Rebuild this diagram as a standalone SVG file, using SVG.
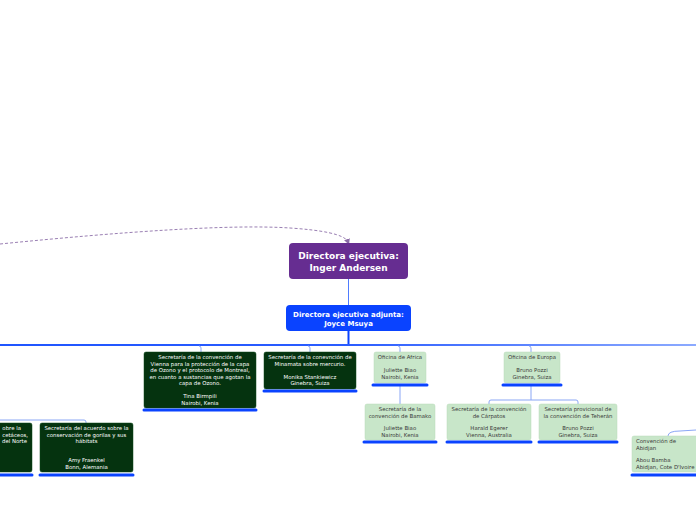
<svg xmlns="http://www.w3.org/2000/svg" width="696" height="520" viewBox="0 0 696 520">
<defs>
<style>
.t{font-family:"DejaVu Sans",Verdana,sans-serif;font-size:5.4px;text-anchor:middle}
.w{fill:#ffffff}
.g{fill:#3a3a3a}
.dk{fill:#05330f;stroke:#0d4a1b;stroke-width:0.5}
.lt{fill:#c8e6c9;stroke:#b8dbb9;stroke-width:0.5}
.bar{stroke:#0a43ff;stroke-width:3;stroke-linecap:round}
.c{fill:none;stroke:#8aa6f5;stroke-width:1}
</style>
<linearGradient id="hg" x1="0" y1="0" x2="696" y2="0" gradientUnits="userSpaceOnUse">
<stop offset="0" stop-color="#1f55ff"/>
<stop offset="0.5" stop-color="#2a5cff"/>
<stop offset="1" stop-color="#8caaff"/>
</linearGradient>
<marker id="ah" markerWidth="6" markerHeight="6" refX="3" refY="3" orient="auto" markerUnits="userSpaceOnUse">
<path d="M0,0 L6,3 L0,6 Z" fill="#8a6aa6"/>
</marker>
</defs>
<rect width="696" height="520" fill="#ffffff"/>
<g id="connectors">
<path d="M0,244 C120,232 230,224 290,228 C320,230 345,234 348,242" fill="none" stroke="#9a7fb3" stroke-width="1" stroke-dasharray="3,2" marker-end="url(#ah)"/>
<line x1="348.5" y1="279" x2="348.5" y2="305" stroke="#4f7cff" stroke-width="1"/>
<line x1="348.5" y1="331" x2="348.5" y2="345" stroke="#0a43ff" stroke-width="2"/>
<line x1="0" y1="345" x2="696" y2="345" stroke="url(#hg)" stroke-width="2"/>
<path class="c" d="M199,346 Q201,346 201,348 L201,352"/>
<path class="c" d="M308,346 Q310,346 310,348 L310,352"/>
<path class="c" d="M398,346 Q400,346 400,348 L400,352"/>
<path class="c" d="M529,346 Q531,346 531,348 L531,352"/>
<line class="c" x1="400" y1="386" x2="400" y2="404"/>
<line class="c" x1="531" y1="386" x2="531" y2="400"/>
<path class="c" d="M489,404 L489,402 Q489,400 491,400 L576,400 Q578,400 578,402 L578,404"/>
<path class="c" d="M0,420 L84,420 Q86,420 86,422 L86,423"/>
<path class="c" d="M696,430 L680,431 Q668,431 668,436"/>
</g>
<g id="n-director">
<rect x="289" y="243" width="119" height="36" rx="4" fill="#662d91"/>
<text x="348.5" y="259" style="font-family:'DejaVu Sans',Verdana,sans-serif;font-size:9px;font-weight:bold;text-anchor:middle" fill="#ffffff">Directora ejecutiva:</text>
<text x="348.5" y="270.5" style="font-family:'DejaVu Sans',Verdana,sans-serif;font-size:9px;font-weight:bold;text-anchor:middle" fill="#ffffff">Inger Andersen</text>
</g>
<g id="n-adjunta">
<rect x="286" y="305" width="125" height="26" rx="4" fill="#0a43ff"/>
<text x="348.5" y="316.5" style="font-family:'DejaVu Sans',Verdana,sans-serif;font-size:7px;font-weight:bold;text-anchor:middle" fill="#ffffff">Directora ejecutiva adjunta:</text>
<text x="348.5" y="325.5" style="font-family:'DejaVu Sans',Verdana,sans-serif;font-size:7px;font-weight:bold;text-anchor:middle" fill="#ffffff">Joyce Msuya</text>
</g>
<g id="n-ozono">
<rect class="dk" x="144" y="352" width="112" height="56" rx="2"/>
<line class="bar" x1="144" y1="410" x2="256" y2="410"/>
<text class="t w" x="200" y="359">Secretaría de la convención de</text>
<text class="t w" x="200" y="365.5">Vienna para la protección de la capa</text>
<text class="t w" x="200" y="372">de Ozono y el protocolo de Montreal,</text>
<text class="t w" x="200" y="378.5">en cuanto a sustancias que agotan la</text>
<text class="t w" x="200" y="385">capa de Ozono.</text>
<text class="t w" x="200" y="398">Tina Birmpili</text>
<text class="t w" x="200" y="404.5">Nairobi, Kenia</text>
</g>
<g id="n-minamata">
<rect class="dk" x="264" y="352" width="92" height="37" rx="2"/>
<line class="bar" x1="264" y1="391" x2="356" y2="391"/>
<text class="t w" x="310" y="359">Secretaría de la conevnción de</text>
<text class="t w" x="310" y="365.5">Minamata sobre mercurio.</text>
<text class="t w" x="310" y="378.5">Monika Stankiewicz</text>
<text class="t w" x="310" y="385">Ginebra, Suiza</text>
</g>
<g id="n-africa">
<rect class="lt" x="374" y="352" width="52" height="31" rx="2"/>
<line class="bar" x1="373" y1="385" x2="427" y2="385"/>
<text class="t g" x="400" y="359">Oficina de Africa</text>
<text class="t g" x="400" y="372">Juliette Biao</text>
<text class="t g" x="400" y="378.5">Nairobi, Kenia</text>
</g>
<g id="n-europa">
<rect class="lt" x="504" y="352" width="56" height="31" rx="2"/>
<line class="bar" x1="503" y1="385" x2="561" y2="385"/>
<text class="t g" x="532" y="359">Oficina de Europa</text>
<text class="t g" x="532" y="372">Bruno Pozzi</text>
<text class="t g" x="532" y="378.5">Ginebra, Suiza</text>
</g>
<g id="n-bamako">
<rect class="lt" x="365" y="404" width="70" height="36" rx="2"/>
<line class="bar" x1="364" y1="442" x2="436" y2="442"/>
<text class="t g" x="400" y="411">Secretaría de la</text>
<text class="t g" x="400" y="417.5">convención de Bamako</text>
<text class="t g" x="400" y="430">Juliette Biao</text>
<text class="t g" x="400" y="436.5">Nairobi, Kenia</text>
</g>
<g id="n-carpatos">
<rect class="lt" x="447" y="404" width="84" height="36" rx="2"/>
<line class="bar" x1="447" y1="442" x2="531" y2="442"/>
<text class="t g" x="489" y="411">Secretaría de la convención</text>
<text class="t g" x="489" y="417.5">de Cárpatos</text>
<text class="t g" x="489" y="430">Harald Egerer</text>
<text class="t g" x="489" y="436.5">Vienna, Australia</text>
</g>
<g id="n-teheran">
<rect class="lt" x="539" y="404" width="78" height="36" rx="2"/>
<line class="bar" x1="539" y1="442" x2="617" y2="442"/>
<text class="t g" x="578" y="411">Secretaría provicional de</text>
<text class="t g" x="578" y="417.5">la convención de Teherán</text>
<text class="t g" x="578" y="430">Bruno Pozzi</text>
<text class="t g" x="578" y="436.5">Ginebra, Suiza</text>
</g>
<g id="n-abidjan">
<rect class="lt" x="632" y="436" width="70" height="36" rx="2"/>
<line class="bar" x1="632" y1="475" x2="700" y2="475"/>
<text class="t g" style="text-anchor:start" x="636" y="443">Convención de</text>
<text class="t g" style="text-anchor:start" x="636" y="449.5">Abidjan</text>
<text class="t g" style="text-anchor:start" x="636" y="462">Abou Bamba</text>
<text class="t g" style="text-anchor:start" x="636" y="468.5">Abidjan, Cote D'Ivoire</text>
</g>
<g id="n-cetaceos">
<rect class="dk" x="-60" y="423" width="92" height="49" rx="2"/>
<line class="bar" x1="-60" y1="475" x2="32" y2="475"/>
<text class="t w" style="text-anchor:end" x="21" y="430">obre la</text>
<text class="t w" style="text-anchor:end" x="28" y="436.5">cetáceos,</text>
<text class="t w" style="text-anchor:end" x="27" y="443">del Norte</text>
</g>
<g id="n-gorilas">
<rect class="dk" x="40" y="423" width="93" height="49" rx="2"/>
<line class="bar" x1="40" y1="475" x2="133" y2="475"/>
<text class="t w" x="86.5" y="430">Secretaría del acuerdo sobre la</text>
<text class="t w" x="86.5" y="436.5">conservación de gorilas y sus</text>
<text class="t w" x="86.5" y="443">hábitats</text>
<text class="t w" x="86.5" y="462">Amy Fraenkel</text>
<text class="t w" x="86.5" y="468.5">Bonn, Alemania</text>
</g>
</svg>
